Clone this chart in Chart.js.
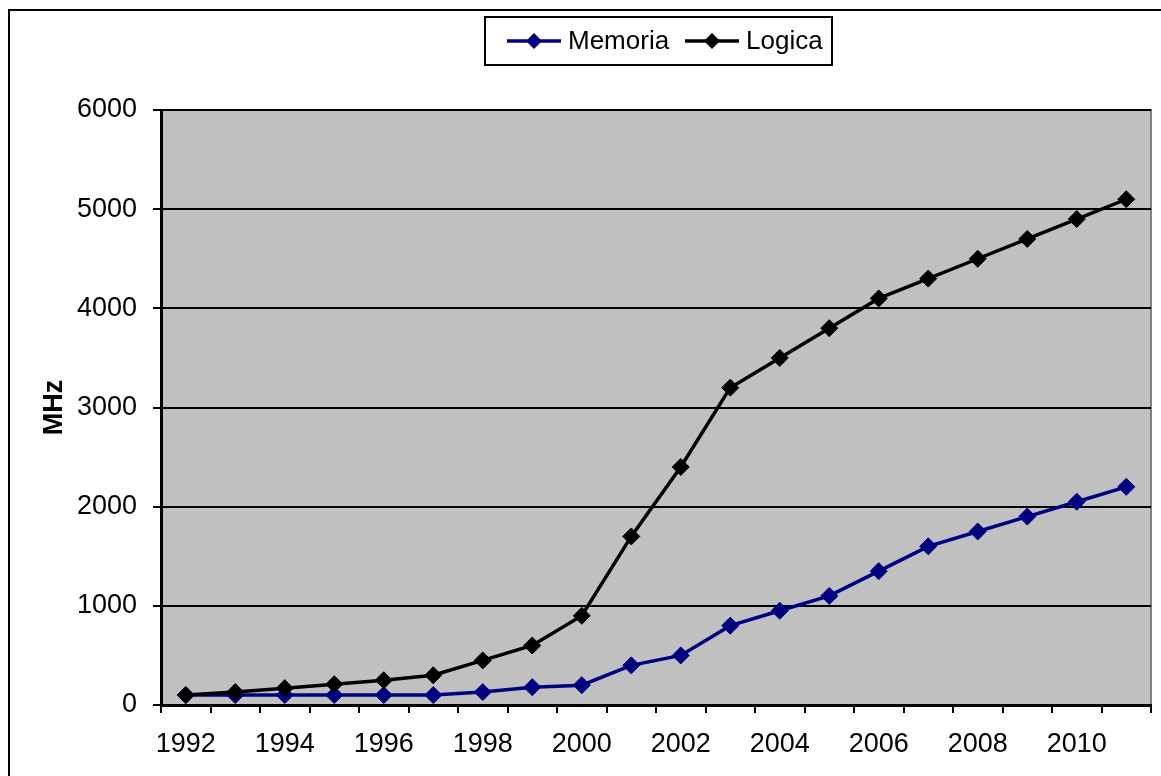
<!DOCTYPE html>
<html>
<head>
<meta charset="utf-8">
<script src="https://cdn.jsdelivr.net/npm/chart.js@4.4.0/dist/chart.umd.min.js"></script>
<style>
  html, body { margin: 0; padding: 0; background: #fff; }
  #wrap { width: 1161px; height: 776px; position: relative; }
</style>
</head>
<body>
<div id="wrap"><canvas id="chart" width="1161" height="776"></canvas></div>
<script>
const years = ["1992", "1993", "1994", "1995", "1996", "1997", "1998", "1999", "2000", "2001",
               "2002", "2003", "2004", "2005", "2006", "2007", "2008", "2009", "2010", "2011"];
const memoria = [100, 100, 100, 100, 100, 100, 130, 180, 200, 400,
                 500, 800, 950, 1100, 1350, 1600, 1750, 1900, 2050, 2200];
const logica = [100, 130, 170, 210, 250, 300, 450, 600, 900, 1700,
                2400, 3200, 3500, 3800, 4100, 4300, 4500, 4700, 4900, 5100];
const yTicks = [0, 1000, 2000, 3000, 4000, 5000, 6000];

const FONT = "'Liberation Sans', Arial, sans-serif";

// gray plot area, outer frame and an Excel-like legend box
const excelLook = {
  id: "excelLook",
  beforeDraw(chart) {
    const { ctx, chartArea: a } = chart;
    ctx.save();
    ctx.fillStyle = "#fff";
    ctx.fillRect(0, 0, chart.width, chart.height);
    // outer frame (left + top visible)
    ctx.strokeStyle = "#000";
    ctx.lineWidth = 2;
    ctx.beginPath();
    ctx.moveTo(9, chart.height + 2);
    ctx.lineTo(9, 10);
    ctx.lineTo(chart.width + 2, 10);
    ctx.stroke();
    // plot area
    ctx.fillStyle = "#c0c0c0";
    ctx.fillRect(a.left, a.top, a.right - a.left, a.bottom - a.top);
    ctx.strokeStyle = "#808080";
    ctx.lineWidth = 2;
    ctx.beginPath();
    ctx.moveTo(a.left, a.top);
    ctx.lineTo(a.right, a.top);
    ctx.lineTo(a.right, a.bottom);
    ctx.stroke();
    ctx.restore();
  },
  afterDraw(chart) {
    const { ctx } = chart;
    const sets = chart.data.datasets;
    const itemX = [507, 685];
    const cy = 41;
    ctx.save();
    ctx.strokeStyle = "#000";
    ctx.lineWidth = 2;
    ctx.strokeRect(485, 17, 347, 48);
    ctx.font = "26px " + FONT;
    ctx.textBaseline = "middle";
    ctx.textAlign = "left";
    sets.forEach((ds, i) => {
      const x = itemX[i];
      ctx.strokeStyle = ds.borderColor;
      ctx.lineWidth = 3.5;
      ctx.beginPath();
      ctx.moveTo(x, cy);
      ctx.lineTo(x + 54, cy);
      ctx.stroke();
      ctx.fillStyle = ds.backgroundColor;
      ctx.beginPath();
      ctx.moveTo(x + 27 - 8, cy);
      ctx.lineTo(x + 27, cy - 8);
      ctx.lineTo(x + 27 + 8, cy);
      ctx.lineTo(x + 27, cy + 8);
      ctx.closePath();
      ctx.fill();
      ctx.fillStyle = "#000";
      ctx.fillText(ds.label, x + 61, cy + 1);
    });
    ctx.restore();
  }
};

new Chart(document.getElementById("chart"), {
  type: "line",
  data: {
    labels: years,
    datasets: [
      {
        label: "Memoria",
        data: memoria,
        borderColor: "#000080",
        backgroundColor: "#000080",
        borderWidth: 3.5,
        pointStyle: "rectRot",
        pointRadius: 8.5,
        pointBorderWidth: 1,
        tension: 0,
        order: 1
      },
      {
        label: "Logica",
        data: logica,
        borderColor: "#000000",
        backgroundColor: "#000000",
        borderWidth: 3.5,
        pointStyle: "rectRot",
        pointRadius: 8.5,
        pointBorderWidth: 1,
        tension: 0,
        order: 0
      }
    ]
  },
  options: {
    responsive: false,
    animation: false,
    layout: { padding: { top: 110, right: 10, bottom: 0, left: 0 } },
    plugins: {
      legend: { display: false },
      tooltip: { enabled: false }
    },
    scales: {
      x: {
        offset: true,
        afterFit(s) { s.height = 71; },
        border: { color: "#000", width: 3 },
        grid: { offset: true, drawOnChartArea: false, drawTicks: true, tickLength: 8, color: "#000", lineWidth: 2 },
        ticks: {
          autoSkip: false,
          maxRotation: 0,
          padding: 15,
          color: "#000",
          font: { family: FONT, size: 27 },
          callback(v, i) { return i % 2 === 0 ? years[i] : ""; }
        }
      },
      y: {
        min: yTicks[0],
        max: yTicks[yTicks.length - 1],
        afterFit(s) { s.width = 161; },
        afterBuildTicks(s) { s.ticks = yTicks.map(v => ({ value: v })); },
        border: { color: "#000", width: 3 },
        grid: { color: "#000", lineWidth: 2, tickLength: 8 },
        ticks: {
          padding: 16,
          color: "#000",
          font: { family: FONT, size: 27 },
          callback(v) { return String(v); }
        },
        title: {
          display: true,
          text: "MHz",
          color: "#000",
          font: { family: FONT, size: 27, weight: "bold" },
          padding: { top: 38 }
        }
      }
    }
  },
  plugins: [excelLook]
});
</script>
</body>
</html>
